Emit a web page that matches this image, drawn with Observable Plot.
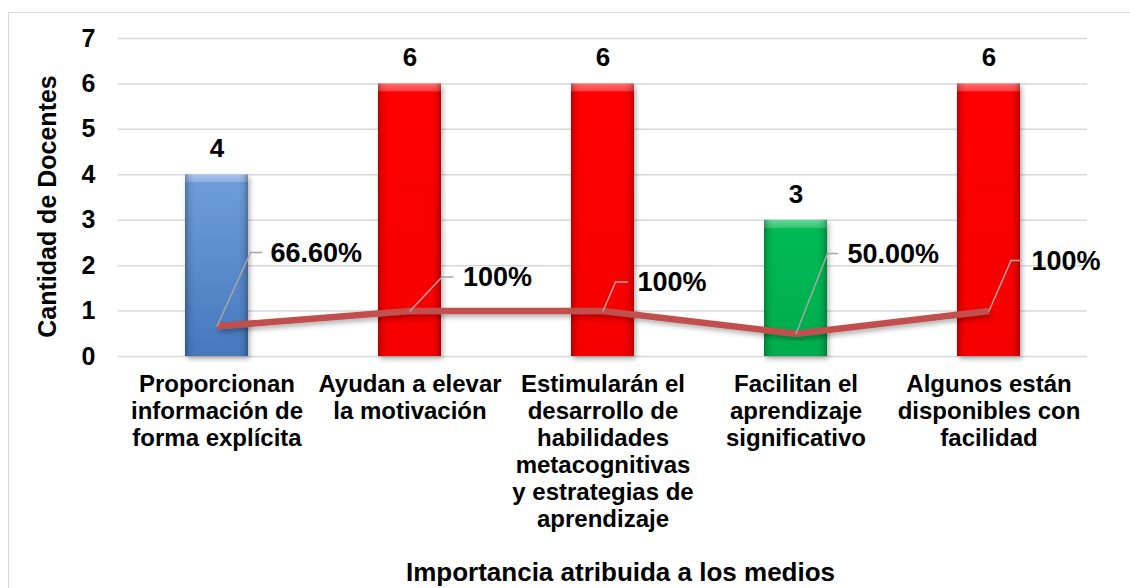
<!DOCTYPE html>
<html>
<head>
<meta charset="utf-8">
<script src="https://cdn.jsdelivr.net/npm/d3@7"></script>
<script src="https://cdn.jsdelivr.net/npm/@observablehq/plot@0.6"></script>
<style>
  html, body { margin: 0; padding: 0; background: #fff; overflow: hidden; }
  #wrap { position: relative; width: 1130px; height: 588px; overflow: hidden; }
  #border { position: absolute; left: 8px; top: 12px; width: 1400px; height: 900px;
            border-left: 1.5px solid #D9D9D9; border-top: 1.5px solid #D9D9D9; pointer-events: none; }
</style>
</head>
<body>
<div id="wrap"><div id="border"></div><div id="chart"></div></div>
<script>
// ---- data ----
const categories = [
  "Proporcionan información de forma explícita",
  "Ayudan a elevar la motivación",
  "Estimularán el desarrollo de habilidades metacognitivas y estrategias de aprendizaje",
  "Facilitan el aprendizaje significativo",
  "Algunos están disponibles con facilidad"
];
const tickLabels = [
  "Proporcionan\ninformación de\nforma explícita",
  "Ayudan a elevar\nla motivación",
  "Estimularán el\ndesarrollo de\nhabilidades\nmetacognitivas\ny estrategias de\naprendizaje",
  "Facilitan el\naprendizaje\nsignificativo",
  "Algunos están\ndisponibles con\nfacilidad"
];
const counts = [4, 6, 6, 3, 6];
const shares = [0.666, 1, 1, 0.5, 1];
const shareLabels = ["66.60%", "100%", "100%", "50.00%", "100%"];
const yTicks = [0, 1, 2, 3, 4, 5, 6, 7];

// ---- styling / layout (not data) ----
const barColors = ["blue", "red", "red", "green", "red"];
// leader: elbow offset (px), horizontal length, text offset (px)
const leaderLayout = [
  {ex: 33.5, ey: -73.7, h: 11, tx: 53.5, ty: -73.2},
  {ex: 32,   ey: -34,   h: 11, tx: 53,   ty: -33.6},
  {ex: 12.5, ey: -29,   h: 12, tx: 34.5, ty: -29},
  {ex: 31.5, ey: -80.3, h: 10, tx: 51.5, ty: -79.3},
  {ex: 22,   ey: -50.6, h: 10, tx: 42.5, ty: -49.6}
];

const data = categories.map((c, i) => ({cat: c, count: counts[i], share: shares[i], label: shareLabels[i], color: barColors[i], i}));
const font = "Liberation Sans, Arial, Helvetica, sans-serif";
const lineShape = {draw(context, l) { context.moveTo(0, 0); context.lineTo(0, -l); }};

const leaderMarks = [];
data.forEach((d, i) => {
  const L = leaderLayout[i];
  const len = Math.hypot(L.ex, L.ey);
  const rot = Math.atan2(L.ex, -L.ey) * 180 / Math.PI;
  leaderMarks.push(Plot.vector([d], {x: "cat", y: "share", anchor: "start", length: len, rotate: rot,
    shape: lineShape, stroke: "#A6A6A6", strokeWidth: 1.5}));
  leaderMarks.push(Plot.vector([d], {x: "cat", y: "share", anchor: "start", length: L.h, rotate: 90,
    dx: L.ex, dy: L.ey, shape: lineShape, stroke: "#A6A6A6", strokeWidth: 1.5}));
  leaderMarks.push(Plot.text([d], {x: "cat", y: "share", text: "label", dx: L.tx, dy: L.ty,
    textAnchor: "start", lineAnchor: "middle", fontSize: 27, fontWeight: "bold", fill: "black"}));
});

const chart = Plot.plot({
  width: 1130,
  height: 588,
  marginLeft: 118,
  marginRight: 43,
  marginTop: 38,
  marginBottom: 232,
  style: {fontFamily: font, fontSize: "25px", fontWeight: "bold", color: "black", background: "transparent"},
  x: {domain: categories, paddingInner: 0.675, paddingOuter: 0.3375, label: null},
  y: {domain: [0, 7], label: null},
  color: {type: "identity"},
  marks: [
    Plot.gridY(yTicks, {stroke: "#D9D9D9", strokeOpacity: 1, strokeWidth: 1.5}),
    Plot.axisY(yTicks, {tickSize: 0, tickPadding: 23, fontSize: 25, fontWeight: "bold", fill: "black", label: null}),
    Plot.axisX({tickSize: 0, tickPadding: 16, fontSize: 24, fontWeight: "bold", fill: "black", lineHeight: 1.125,
      label: null, tickFormat: (c) => tickLabels[categories.indexOf(c)]}),
    Plot.barY(data, {x: "cat", y: "count", fill: d => `url(#grad-${d.color})`}),
    Plot.barY(data, {x: "cat", y: "count", fill: "url(#edge)"}),
    Plot.text(data, {x: "cat", y: "count", text: d => String(d.count), dy: -26, lineAnchor: "middle",
      fontSize: 26, fontWeight: "bold", fill: "black"}),
    Plot.lineY(data, {x: "cat", y: "share", stroke: "#C0504D", strokeWidth: 6.5, strokeLinecap: "butt"}),
    ...leaderMarks,
    Plot.text(["Cantidad de Docentes"], {frameAnchor: "left", rotate: -90, dx: -71, dy: 9,
      textAnchor: "middle", fontSize: 25, fontWeight: "bold", fill: "black", lineAnchor: "middle"}),
    Plot.text(["Importancia atribuida a los medios"], {frameAnchor: "bottom", dx: 17.5, dy: 216,
      textAnchor: "middle", fontSize: 26, fontWeight: "bold", fill: "black", lineAnchor: "middle"})
  ]
});

const defs = `
<defs>
  <linearGradient id="grad-blue" x1="0" y1="0" x2="0" y2="1">
    <stop offset="0" stop-color="#A9C4EA"/>
    <stop offset="0.044" stop-color="#8EB0E0"/>
    <stop offset="0.045" stop-color="#6E9DDA"/>
    <stop offset="1" stop-color="#4677BD"/>
  </linearGradient>
  <linearGradient id="grad-red" x1="0" y1="0" x2="0" y2="1">
    <stop offset="0" stop-color="#FF7070"/>
    <stop offset="0.029" stop-color="#FF3A3A"/>
    <stop offset="0.03" stop-color="#FF0505"/>
    <stop offset="1" stop-color="#F50000"/>
  </linearGradient>
  <linearGradient id="grad-green" x1="0" y1="0" x2="0" y2="1">
    <stop offset="0" stop-color="#66D895"/>
    <stop offset="0.058" stop-color="#35C474"/>
    <stop offset="0.059" stop-color="#05BA55"/>
    <stop offset="1" stop-color="#00AC4C"/>
  </linearGradient>
  <linearGradient id="edge" x1="0" y1="0" x2="1" y2="0">
    <stop offset="0" stop-color="#000" stop-opacity="0.28"/>
    <stop offset="0.07" stop-color="#000" stop-opacity="0.08"/>
    <stop offset="0.15" stop-color="#000" stop-opacity="0"/>
    <stop offset="0.85" stop-color="#000" stop-opacity="0"/>
    <stop offset="0.93" stop-color="#000" stop-opacity="0.08"/>
    <stop offset="1" stop-color="#000" stop-opacity="0.28"/>
  </linearGradient>
  <filter id="shadow" x="-30%" y="-30%" width="160%" height="160%">
    <feDropShadow dx="2" dy="3" stdDeviation="2.5" flood-color="#000" flood-opacity="0.3"/>
  </filter>
</defs>`;
chart.insertAdjacentHTML("afterbegin", defs);
const bars = chart.querySelectorAll('g[aria-label="bar"]');
if (bars.length) bars[0].setAttribute("filter", "url(#shadow)");
const line = chart.querySelector('g[aria-label="line"]');
if (line) line.setAttribute("filter", "url(#shadow)");
document.getElementById("chart").appendChild(chart);
</script>
</body>
</html>
